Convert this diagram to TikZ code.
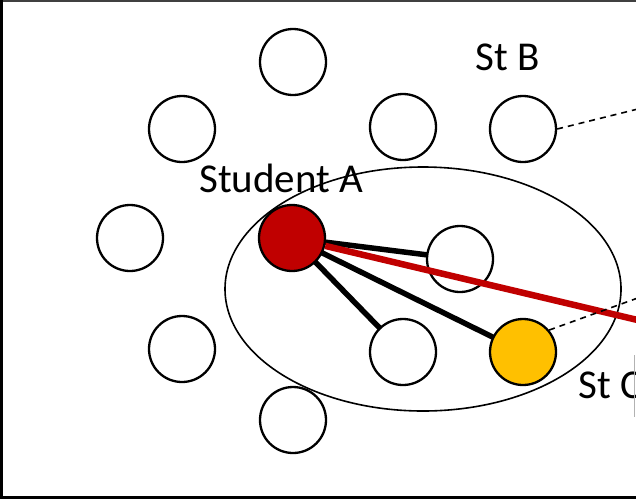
\documentclass[tikz,border=0pt]{standalone}
\usepackage{fontspec}
\setmainfont{Carlito}
\usetikzlibrary{shapes.geometric}
\definecolor{stred}{HTML}{C00000}
\definecolor{styellow}{HTML}{FFC000}
\tikzset{
  student/.style={circle, draw=black, line width=2.3pt, fill=white, minimum size=66pt, inner sep=0pt},
  tie/.style={line width=5.5pt, black},
  redtie/.style={line width=6.5pt, stred},
  weaktie/.style={line width=1.6pt, dash pattern=on 6pt off 5pt},
  lbl/.style={font=\fontsize{41}{48}\selectfont, inner sep=0pt, anchor=base west},
}
\begin{document}
\begin{tikzpicture}[x=1pt,y=-1pt]
\useasboundingbox (0,0) rectangle (636,499);
\clip (0,0) rectangle (636,499);
% frame
\draw[line width=2pt, black!75] (0,1) -- (636,1);
\draw[line width=3pt] (1.5,0) -- (1.5,497.5) -- (636,497.5);

% group outline
\node[ellipse, draw, line width=1.6pt, minimum width=396pt, minimum height=244pt, inner sep=0pt] (grp) at (423,289) {};

% student positions
\coordinate (pA) at (292,238);
\coordinate (pD) at (460,259);
\coordinate (pE) at (403,352);
\coordinate (pC) at (523,352);

% strong ties of student A (under the circles)
\draw[tie] (pA) -- (pD);
\draw[tie] (pA) -- (pE);
\draw[tie] (pA) -- (pC);

% students
\node[student] (s1) at (293,62) {};
\node[student] (s2) at (182,129) {};
\node[student] (s3) at (403,127) {};
\node[student] (stB) at (523,129) {};
\node[student] (s5) at (130,238) {};
\node[student, fill=stred] (stA) at (pA) {};
\node[student] (s7) at (pD) {};
\node[student] (s8) at (182,349) {};
\node[student] (s9) at (pE) {};
\node[student, fill=styellow] (stC) at (pC) {};
\node[student] (s11) at (293,420) {};

% ties leaving the frame
\coordinate (outA) at (646,322);
\coordinate (outB) at (646,107);
\coordinate (outC) at (646,295);
\draw[redtie] (stA) -- (outA);
\draw[weaktie] (stB.east) -- (outB);
\draw[weaktie] (stC.40) -- (outC);

% labels
\node[lbl] (lA) at (199,192) {Student A};
\node[lbl] (lB) at (475,70) {St B};
\node[lbl] (lC) at (578,398) {St C};
\draw[line width=1pt, black!30] (634.5,355) -- (634.5,417);
\end{tikzpicture}
\end{document}
